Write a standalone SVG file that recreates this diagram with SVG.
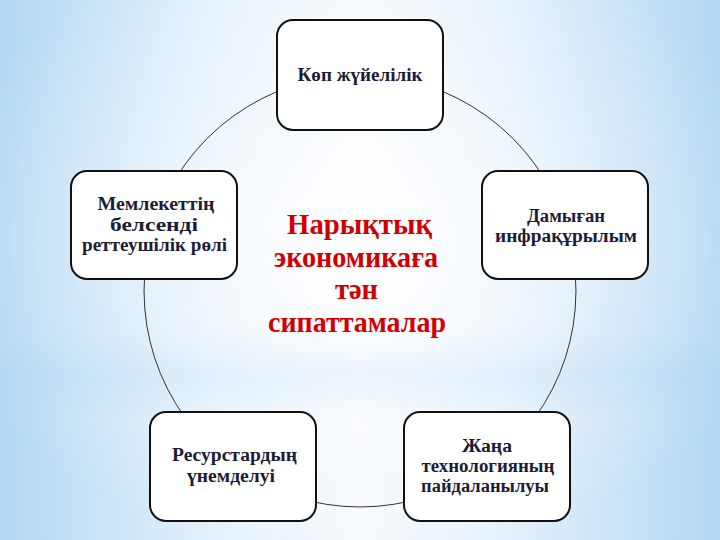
<svg xmlns="http://www.w3.org/2000/svg" width="720" height="540" viewBox="0 0 720 540" font-family="'Liberation Serif', serif">
  <defs>
    <linearGradient id="bgH" x1="0" y1="0" x2="1" y2="0">
      <stop offset="0" stop-color="#b3d8f4"/>
      <stop offset="0.3" stop-color="#e4f1fb"/>
      <stop offset="0.5" stop-color="#f6fafd"/>
      <stop offset="0.7" stop-color="#e4f1fb"/>
      <stop offset="1" stop-color="#b3d8f4"/>
    </linearGradient>
    <radialGradient id="bgR" cx="0.5" cy="0.45" r="0.6">
      <stop offset="0" stop-color="#ffffff" stop-opacity="0.9"/>
      <stop offset="0.6" stop-color="#ffffff" stop-opacity="0.3"/>
      <stop offset="1" stop-color="#ffffff" stop-opacity="0"/>
    </radialGradient>
    <linearGradient id="band" x1="0" y1="0" x2="0" y2="1">
      <stop offset="0" stop-color="#a9d3f3" stop-opacity="0"/>
      <stop offset="0.5" stop-color="#a9d3f3" stop-opacity="0.35"/>
      <stop offset="1" stop-color="#a9d3f3" stop-opacity="0"/>
    </linearGradient>
    <style>
      .box { fill: #ffffff; stroke: #111111; stroke-width: 2; }
      .nl { font-family: 'Liberation Serif', serif; font-weight: bold; font-size: 18px; fill: #1c1c36; text-anchor: middle; }
      .ct { font-family: 'Liberation Serif', serif; font-weight: bold; font-size: 30px; fill: #d10000; text-anchor: middle; }
      .arc { fill: none; stroke: #333333; stroke-width: 1; }
    </style>
  </defs>

  <rect x="0" y="0" width="720" height="540" fill="url(#bgH)"/>
  <rect x="0" y="330" width="720" height="90" fill="url(#band)"/>
  <rect x="0" y="0" width="720" height="540" fill="url(#bgR)"/>

  <g id="connectors">
    <path class="arc" d="M360 75 A216 216 0 0 1 565.4 224.3"/>
    <path class="arc" d="M565.4 224.3 A216 216 0 0 1 487 465.7"/>
    <path class="arc" d="M487 465.7 A216 216 0 0 1 233 465.7"/>
    <path class="arc" d="M233 465.7 A216 216 0 0 1 154.6 224.3"/>
    <path class="arc" d="M154.6 224.3 A216 216 0 0 1 360 75"/>
  </g>

  <g id="node-top">
    <rect class="box" x="277" y="20" width="166" height="110" rx="16"/>
    <text class="nl" style="font-family:'Liberation Serif',serif" x="360" y="81" textLength="125" lengthAdjust="spacingAndGlyphs">Көп жүйелілік</text>
  </g>

  <g id="node-left">
    <rect class="box" x="71" y="171" width="166" height="108" rx="16"/>
    <text class="nl" style="font-family:'Liberation Serif',serif" x="156" y="210" textLength="117" lengthAdjust="spacingAndGlyphs">Мемлекеттің</text>
    <text class="nl" style="font-family:'Liberation Serif',serif" x="154" y="231" textLength="88" lengthAdjust="spacingAndGlyphs">белсенді</text>
    <text class="nl" style="font-family:'Liberation Serif',serif" x="154.5" y="251" textLength="145" lengthAdjust="spacingAndGlyphs">реттеушілік рөлі</text>
  </g>

  <g id="node-right">
    <rect class="box" x="482" y="171" width="166" height="108" rx="16"/>
    <text class="nl" style="font-family:'Liberation Serif',serif" x="566" y="222" textLength="78" lengthAdjust="spacingAndGlyphs">Дамыған</text>
    <text class="nl" style="font-family:'Liberation Serif',serif" x="566" y="242" textLength="142" lengthAdjust="spacingAndGlyphs">инфрақұрылым</text>
  </g>

  <g id="node-bottom-left">
    <rect class="box" x="150" y="412" width="166" height="109" rx="16"/>
    <text class="nl" style="font-family:'Liberation Serif',serif" x="234.5" y="461" textLength="125" lengthAdjust="spacingAndGlyphs">Ресурстардың</text>
    <text class="nl" style="font-family:'Liberation Serif',serif" x="231" y="482" textLength="88" lengthAdjust="spacingAndGlyphs">үнемделуі</text>
  </g>

  <g id="node-bottom-right">
    <rect class="box" x="404" y="412" width="166" height="109" rx="16"/>
    <text class="nl" style="font-family:'Liberation Serif',serif" x="487" y="452" textLength="50" lengthAdjust="spacingAndGlyphs">Жаңа</text>
    <text class="nl" style="font-family:'Liberation Serif',serif" x="488" y="472" textLength="133" lengthAdjust="spacingAndGlyphs">технологияның</text>
    <text class="nl" style="font-family:'Liberation Serif',serif" x="485" y="492" textLength="128" lengthAdjust="spacingAndGlyphs">пайдаланылуы</text>
  </g>

  <g id="center-title">
    <text class="ct" style="font-family:'Liberation Serif',serif" x="359.5" y="234" textLength="145" lengthAdjust="spacingAndGlyphs">Нарықтық</text>
    <text class="ct" style="font-family:'Liberation Serif',serif" x="356" y="267" textLength="164" lengthAdjust="spacingAndGlyphs">экономикаға</text>
    <text class="ct" style="font-family:'Liberation Serif',serif" x="356.5" y="299" textLength="43" lengthAdjust="spacingAndGlyphs">тән</text>
    <text class="ct" style="font-family:'Liberation Serif',serif" x="357" y="332" textLength="178" lengthAdjust="spacingAndGlyphs">сипаттамалар</text>
  </g>
</svg>
